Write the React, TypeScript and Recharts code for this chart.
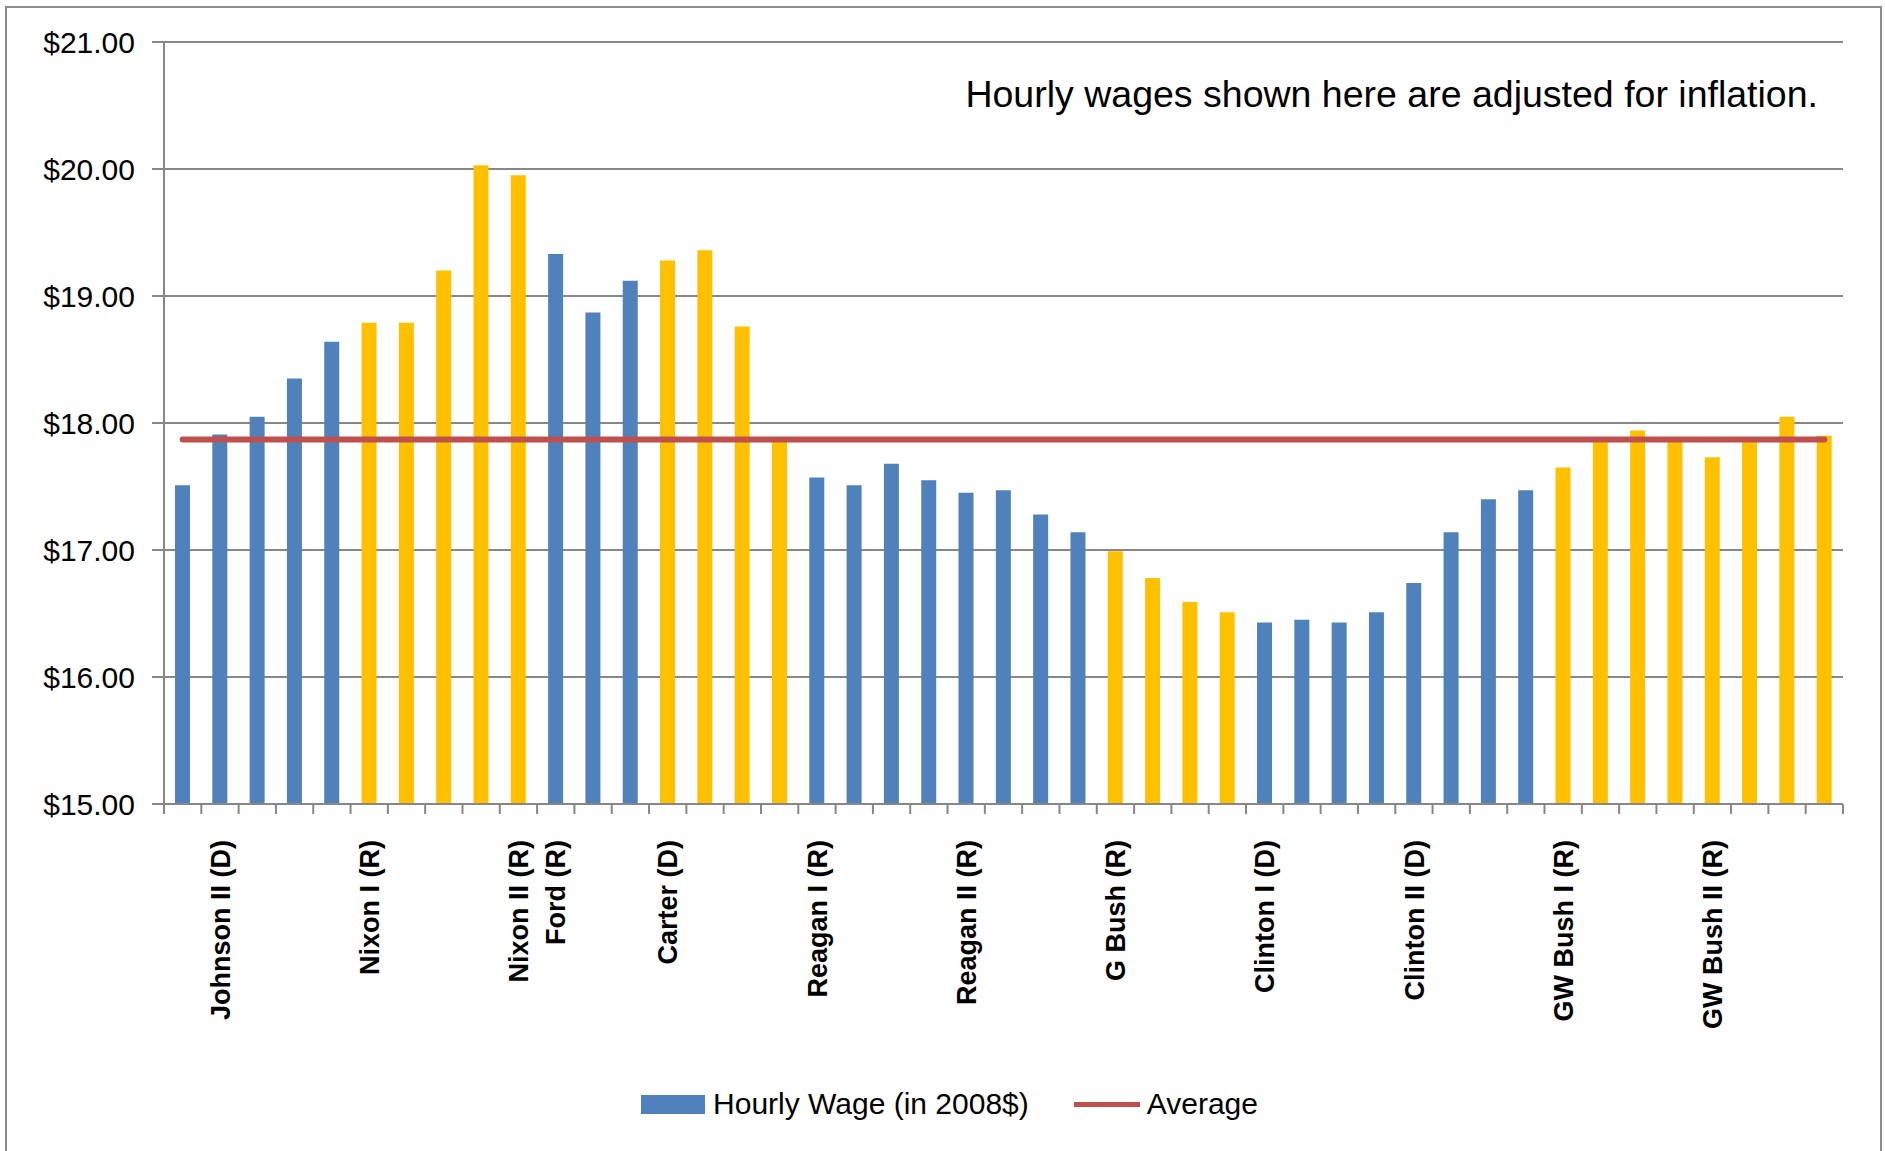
import React from 'react';
import { ComposedChart, Bar, Line, XAxis, YAxis, CartesianGrid, Cell, Legend, Customized } from 'recharts';

const years = [1964, 1965, 1966, 1967, 1968, 1969, 1970, 1971, 1972, 1973, 1974, 1975, 1976, 1977, 1978, 1979, 1980, 1981, 1982, 1983, 1984, 1985, 1986, 1987, 1988, 1989, 1990, 1991, 1992, 1993, 1994, 1995, 1996, 1997, 1998, 1999, 2000, 2001, 2002, 2003, 2004, 2005, 2006, 2007, 2008];

const wages = [17.51, 17.91, 18.05, 18.35, 18.64, 18.79, 18.79, 19.20, 20.03, 19.95, 19.33, 18.87, 19.12, 19.28, 19.36, 18.76, 17.86, 17.57, 17.51, 17.68, 17.55, 17.45, 17.47, 17.28, 17.14, 16.99, 16.78, 16.59, 16.51, 16.43, 16.45, 16.43, 16.51, 16.74, 17.14, 17.40, 17.47, 17.65, 17.88, 17.94, 17.86, 17.73, 17.87, 18.05, 17.90];

const presidents = ['Johnson', 'Johnson', 'Johnson', 'Johnson', 'Johnson', 'Nixon', 'Nixon', 'Nixon', 'Nixon', 'Nixon', 'Ford', 'Ford', 'Ford', 'Carter', 'Carter', 'Carter', 'Carter', 'Reagan', 'Reagan', 'Reagan', 'Reagan', 'Reagan', 'Reagan', 'Reagan', 'Reagan', 'GBush', 'GBush', 'GBush', 'GBush', 'Clinton', 'Clinton', 'Clinton', 'Clinton', 'Clinton', 'Clinton', 'Clinton', 'Clinton', 'GWBush', 'GWBush', 'GWBush', 'GWBush', 'GWBush', 'GWBush', 'GWBush', 'GWBush'];

const tickLabels = ['', 'Johnson II (D)', '', '', '', 'Nixon I (R)', '', '', '', 'Nixon II (R)', 'Ford (R)', '', '', 'Carter (D)', '', '', '', 'Reagan I (R)', '', '', '', 'Reagan II (R)', '', '', '', 'G Bush (R)', '', '', '', 'Clinton I (D)', '', '', '', 'Clinton II (D)', '', '', '', 'GW Bush I (R)', '', '', '', 'GW Bush II (R)', '', '', ''];

const average = 17.87;

const yTicks = [15, 16, 17, 18, 19, 20, 21];

const BLUE = '#4F81BD';
const GOLD = '#FFC000';
const RED = '#C0504D';
const GRAY = '#878787';
const FONT = '"Liberation Sans", Arial, sans-serif';

const colorByPresident: Record<string, string> = {
  Johnson: BLUE,
  Nixon: GOLD,
  Ford: BLUE,
  Carter: GOLD,
  Reagan: BLUE,
  GBush: GOLD,
  Clinton: BLUE,
  GWBush: GOLD,
};

const data = years.map((y, i) => ({ year: y, wage: wages[i], avg: average }));

const XTick = (props: any) => {
  const { x, y, payload, index } = props;
  const off = payload && typeof payload.offset === 'number' ? payload.offset : 18.65;
  const label = tickLabels[index];
  const ly = y + 36;
  return (
    <g>
      <line x1={x + off} x2={x + off} y1={y} y2={y + 10} stroke={GRAY} strokeWidth={2} />
      {index === 0 && <line x1={x - off} x2={x - off} y1={y} y2={y + 10} stroke={GRAY} strokeWidth={2} />}
      {label ? (
        <text
          x={x}
          y={ly}
          dy="0.36em"
          transform={`rotate(-90, ${x}, ${ly})`}
          textAnchor="end"
          fontFamily={FONT}
          fontWeight="bold"
          fontSize={27}
          fill="#000"
        >
          {label}
        </text>
      ) : null}
    </g>
  );
};

const LegendContent = () => (
  <div style={{ height: 40, display: 'flex', alignItems: 'center', justifyContent: 'center', paddingLeft: 56, fontFamily: FONT, fontSize: 30, color: '#000' }}>
    <div style={{ width: 64, height: 19, background: BLUE, marginRight: 8 }} />
    <span>Hourly Wage (in 2008$)</span>
    <div style={{ width: 66, height: 5, background: RED, marginLeft: 45, marginRight: 7 }} />
    <span>Average</span>
  </div>
);

const Annotation = () => (
  <text x={1818} y={107} textAnchor="end" fontFamily={FONT} fontSize={37.5} fill="#000">
    Hourly wages shown here are adjusted for inflation.
  </text>
);

export default function App() {
  return (
    <div style={{ position: 'absolute', left: 0, top: 0, width: 1885, height: 1151, overflow: 'hidden', background: '#fff' }}>
      <div style={{ position: 'absolute', left: 5, top: 6, width: 1873, height: 1170, border: '2px solid #8c8c8c' }} />
      <div style={{ position: 'absolute', left: 0, top: 0 }}>
        <ComposedChart width={1885} height={1151} data={data} margin={{ top: 42, right: 42, bottom: 27, left: 0 }}>
          <CartesianGrid vertical={false} stroke={GRAY} strokeWidth={2} />
          <XAxis
            dataKey="year"
            interval={0}
            tickLine={false}
            tickSize={0}
            tickMargin={0}
            height={280}
            axisLine={{ stroke: GRAY, strokeWidth: 2 }}
            tick={(p: any) => <XTick {...p} />}
          />
          <YAxis
            type="number"
            domain={[15, 21]}
            ticks={yTicks}
            interval={0}
            allowDataOverflow
            width={164}
            tickSize={12}
            tickMargin={17}
            axisLine={{ stroke: GRAY, strokeWidth: 2 }}
            tickLine={{ stroke: GRAY, strokeWidth: 2 }}
            tickFormatter={(v: number) => `$${v.toFixed(2)}`}
            tick={{ fontSize: 30, fill: '#000', fontFamily: FONT }}
          />
          <Bar dataKey="wage" name="Hourly Wage (in 2008$)" barSize={15} isAnimationActive={false}>
            {data.map((d, i) => (
              <Cell key={i} fill={colorByPresident[presidents[i]]} />
            ))}
          </Bar>
          <Line
            dataKey="avg"
            name="Average"
            stroke={RED}
            strokeWidth={6}
            strokeLinecap="round"
            dot={false}
            activeDot={false}
            isAnimationActive={false}
          />
          <Legend verticalAlign="bottom" content={() => <LegendContent />} />
          <Customized component={Annotation} />
        </ComposedChart>
      </div>
    </div>
  );
}
